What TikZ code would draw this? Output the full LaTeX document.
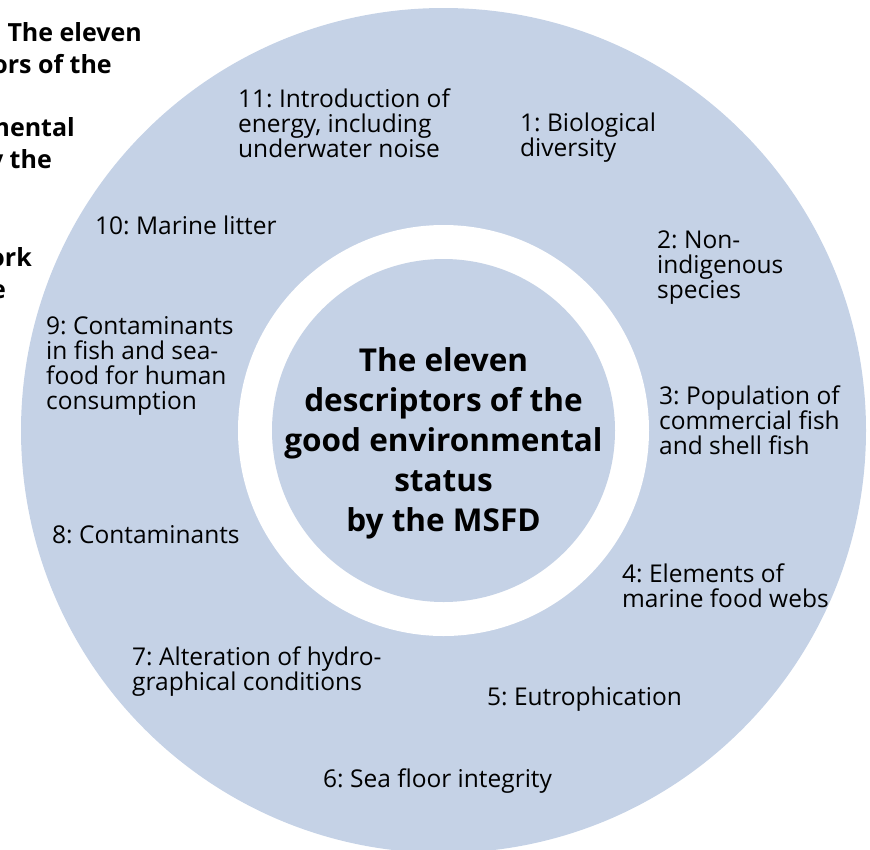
\documentclass[tikz,border=0pt]{standalone}
\usepackage{fontspec}
\setmainfont{Open Sans}
\frenchspacing
\definecolor{ringblue}{RGB}{197,210,230}
\begin{document}
\begin{tikzpicture}[x=1pt,y=-1pt,
  disc/.style={circle,inner sep=0pt,outer sep=0pt,draw=none},
  lbl/.style={font=\fontsize{24.5}{25}\selectfont,align=left,inner sep=0pt,anchor=north west},
  titletext/.style={font=\fontsize{31.5}{40}\selectfont\bfseries,align=center,inner sep=0pt},
  captext/.style={font=\fontsize{25}{32}\selectfont\bfseries,inner sep=0pt,anchor=base east}]
\useasboundingbox (0,0) rectangle (870,849);
\coordinate (c) at (443.5,430.5);
\node[disc,fill=ringblue,minimum size=845pt] (outer) at (c) {};
\node[disc,fill=white,minimum size=411pt] (ring) at (c) {};
\node[disc,fill=ringblue,minimum size=343pt] (inner) at (c) {};
\node[titletext] (title) at (443.5,443) {The eleven\\descriptors of the\\good environmental\\status\\by the MSFD};
\node[lbl] (d11) at (238,88.5) {11: Introduction of\\energy, including\\underwater noise};
\node[lbl] (d1) at (520,112.5) {1: Biological\\diversity};
\node[lbl] (d10) at (95,215.5) {10: Marine litter};
\node[lbl] (d2) at (657,230.5) {2: Non-\\indigenous\\species};
\node[lbl] (d9) at (46,316.5) {9: Contaminants\\in fish and sea-\\food for human\\consumption};
\node[lbl] (d3) at (659,385.5) {3: Population of\\commercial fish\\and shell fish};
\node[lbl] (d8) at (52,525.5) {8: Contaminants};
\node[lbl] (d4) at (622,563.5) {4: Elements of\\marine food webs};
\node[lbl] (d7) at (132,646.5) {7: Alteration of hydro-\\graphical conditions};
\node[lbl] (d5) at (487,686.5) {5: Eutrophication};
\node[lbl] (d6) at (323,768.5) {6: Sea floor integrity};
\node[captext] (cap1) at (142,41) {Figure 1: The eleven};
\node[captext] (cap2) at (112,73) {descriptors of the};
\node[captext] (cap3) at (75,136) {environmental};
\node[captext] (cap4) at (52,168) {status by the};
\node[captext] (cap5) at (32,266) {Framework};
\node[captext] (cap6) at (6,298) {Directive};
\end{tikzpicture}
\end{document}
